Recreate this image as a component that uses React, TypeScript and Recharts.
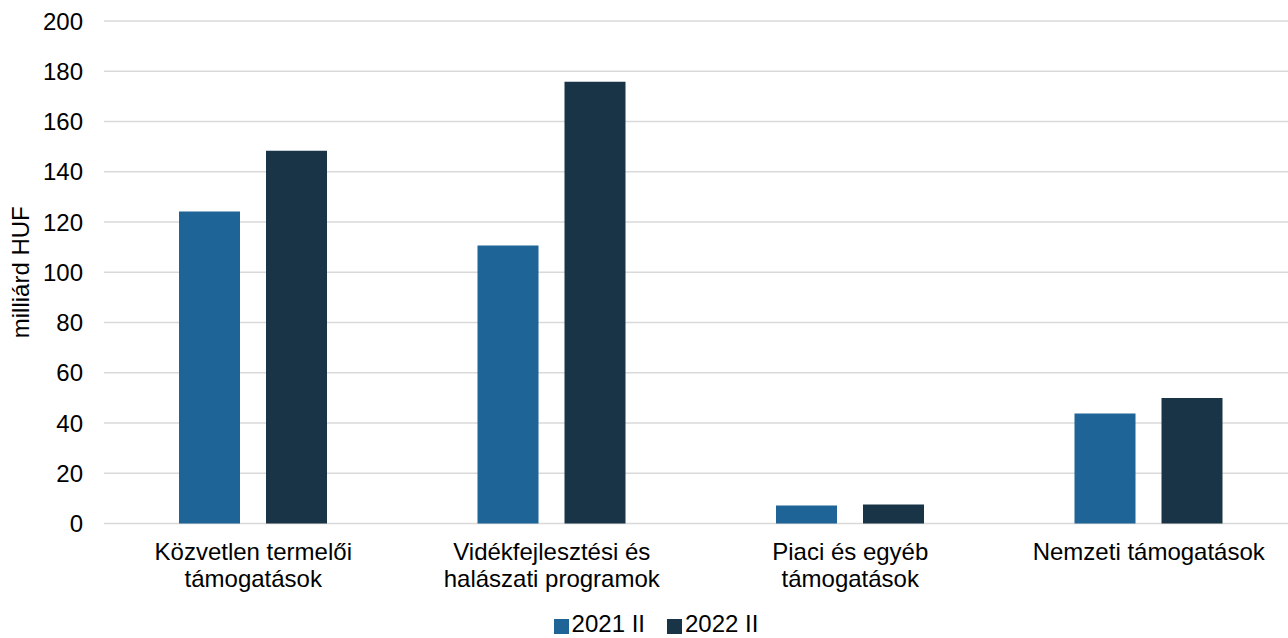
import React from 'react';
import { BarChart, Bar, XAxis, YAxis, CartesianGrid, Legend } from 'recharts';

// categories (line breaks where the labels wrap)
const categories = [
    'Közvetlen termelői\ntámogatások',
    'Vidékfejlesztési és\nhalászati programok',
    'Piaci és egyéb\ntámogatások',
    'Nemzeti támogatások',
];

const values2021 = [124.2, 110.6, 7.2, 43.8];
const values2022 = [148.4, 175.8, 7.6, 50.0];

const yTicks = [0, 20, 40, 60, 80, 100, 120, 140, 160, 180, 200];

const seriesNames = ['2021 II', '2022 II'];
const colors = ['#1f6496', '#193447'];

const data = categories.map((name, i) => ({
    name,
    s2021: values2021[i],
    s2022: values2022[i],
}));

const FONT = '"Liberation Sans", Arial, sans-serif';

const CategoryTick = (props: any) => {
    const { x, y, payload } = props;
    const lines = String(payload.value).split('\n');
    return (
        <text x={x} y={y + 36} textAnchor="middle" fill="#000" fontSize={24} fontFamily={FONT}>
            {lines.map((line, i) => (
                <tspan key={i} x={x} dy={i === 0 ? 0 : 27}>
                    {line}
                </tspan>
            ))}
        </text>
    );
};

const LegendContent = () => (
    <div style={{ display: 'flex', justifyContent: 'center', fontFamily: FONT, fontSize: 24, lineHeight: '24px', color: '#000' }}>
        {seriesNames.map((s, i) => (
            <div key={s} style={{ display: 'flex', alignItems: 'center', marginRight: i === 0 ? 22 : 0 }}>
                <span style={{ display: 'inline-block', width: 15, height: 15, background: colors[i], marginRight: 3, marginTop: 4 }} />
                <span>{s}</span>
            </div>
        ))}
    </div>
);

export default function App() {
    return (
        <div style={{ position: 'absolute', left: 0, top: 0, width: 1288, height: 638, overflow: 'hidden', background: '#fff' }}>
            <BarChart
                width={1298}
                height={638}
                data={data}
                margin={{ top: 21, right: 0, bottom: 0, left: 0 }}
                barSize={61}
                barGap={26}
            >
                <CartesianGrid vertical={false} stroke="#d9d9d9" strokeWidth={1.5} />
                <XAxis
                    dataKey="name"
                    axisLine={false}
                    tickLine={false}
                    tickSize={0}
                    tickMargin={0}
                    height={114.5}
                    interval={0}
                    tick={<CategoryTick />}
                />
                <YAxis
                    domain={[0, 200]}
                    ticks={yTicks}
                    axisLine={false}
                    tickLine={false}
                    tickSize={0}
                    tickMargin={21}
                    width={104}
                    tick={{ fill: '#000', fontSize: 24, fontFamily: FONT }}
                    label={{
                        value: 'milliárd HUF',
                        angle: -90,
                        position: 'insideLeft',
                        offset: 20,
                        style: { textAnchor: 'middle', fill: '#000', fontSize: 24, fontFamily: FONT },
                    }}
                />
                <Legend
                    layout="horizontal"
                    verticalAlign="middle"
                    align="center"
                    content={<LegendContent />}
                    wrapperStyle={{ top: 612, left: 0, width: 1312 }}
                />
                <Bar dataKey="s2021" name={seriesNames[0]} fill={colors[0]} isAnimationActive={false} />
                <Bar dataKey="s2022" name={seriesNames[1]} fill={colors[1]} isAnimationActive={false} />
            </BarChart>
        </div>
    );
}
